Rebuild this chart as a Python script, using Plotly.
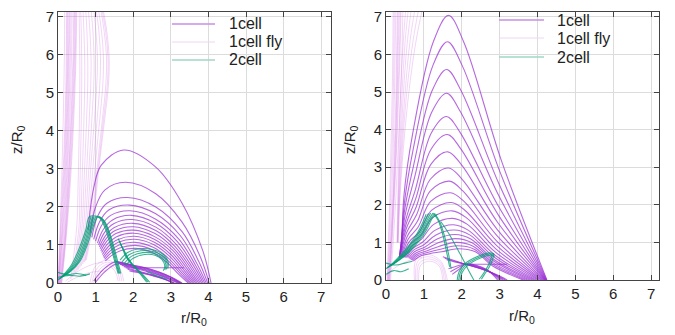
import plotly.graph_objects as go

# ---------------- Left panel ----------------
# 1cell trajectories (r, z) waypoints
L1_R = [
    [0.80, 0.95, 1.15, 1.75, 2.60, 3.30, 3.85, 4.07],
    [0.85, 1.00, 1.25, 1.80, 2.60, 3.30, 3.80, 4.02],
    [0.90, 1.05, 1.30, 1.85, 2.60, 3.30, 3.75, 3.98],
    [0.95, 1.10, 1.35, 1.90, 2.60, 3.25, 3.70, 3.94],
    [1.00, 1.15, 1.40, 1.92, 2.60, 3.22, 3.66, 3.90],
    [1.05, 1.20, 1.45, 1.95, 2.60, 3.18, 3.62, 3.86],
    [1.08, 1.23, 1.48, 1.97, 2.60, 3.15, 3.58, 3.82],
    [1.10, 1.26, 1.50, 1.99, 2.60, 3.12, 3.54, 3.78],
    [1.12, 1.28, 1.52, 2.00, 2.58, 3.09, 3.50, 3.74],
    [1.14, 1.30, 1.54, 2.01, 2.57, 3.06, 3.46, 3.70],
    [1.16, 1.32, 1.56, 2.02, 2.56, 3.03, 3.42, 3.66],
    [1.18, 1.34, 1.58, 2.03, 2.55, 3.00, 3.38, 3.62],
    [1.20, 1.36, 1.60, 2.04, 2.54, 2.97, 3.34, 3.58],
    [1.22, 1.38, 1.62, 2.05, 2.53, 2.94, 3.30, 3.54],
    [1.24, 1.40, 1.64, 2.06, 2.52, 2.91, 3.26, 3.50],
    [1.26, 1.42, 1.66, 2.07, 2.51, 2.88, 3.22, 3.46],
    [1.55, 1.90, 2.30, 2.70, 3.05, 3.30],
    [1.60, 1.95, 2.35, 2.72, 3.05, 3.28],
    [1.65, 2.00, 2.38, 2.74, 3.04, 3.25],
    [1.70, 2.05, 2.42, 2.76, 3.03, 3.22],
    [1.75, 2.10, 2.45, 2.78, 3.02, 3.18],
    [1.80, 2.10, 2.50, 2.85, 3.10],
    [1.85, 2.15, 2.52, 2.86, 3.08],
    [1.90, 2.20, 2.55, 2.88, 3.05],
    [1.50, 1.85, 2.25, 2.65, 3.00, 3.25],
    [1.95, 3.35],
    [0.95, 1.20, 1.50, 1.80, 2.05],
    [1.00, 1.25, 1.55, 1.85, 2.10],
]
L1_Z = [
    [1.40, 2.50, 3.10, 3.50, 3.05, 2.10, 0.85, 0.00],
    [1.30, 2.00, 2.45, 2.65, 2.35, 1.60, 0.65, 0.00],
    [1.20, 1.75, 2.10, 2.25, 2.00, 1.35, 0.55, 0.00],
    [1.15, 1.60, 1.92, 2.05, 1.82, 1.25, 0.50, 0.00],
    [1.10, 1.50, 1.78, 1.90, 1.68, 1.15, 0.46, 0.00],
    [1.05, 1.40, 1.66, 1.78, 1.57, 1.08, 0.43, 0.00],
    [1.00, 1.32, 1.56, 1.67, 1.47, 1.01, 0.40, 0.00],
    [0.95, 1.24, 1.46, 1.57, 1.38, 0.95, 0.38, 0.00],
    [0.90, 1.17, 1.38, 1.48, 1.30, 0.90, 0.36, 0.00],
    [0.85, 1.10, 1.30, 1.39, 1.22, 0.85, 0.34, 0.00],
    [0.80, 1.03, 1.22, 1.31, 1.15, 0.80, 0.32, 0.00],
    [0.75, 0.96, 1.14, 1.23, 1.08, 0.75, 0.30, 0.00],
    [0.70, 0.90, 1.07, 1.15, 1.01, 0.70, 0.28, 0.00],
    [0.66, 0.84, 1.00, 1.07, 0.94, 0.65, 0.26, 0.00],
    [0.62, 0.78, 0.92, 0.99, 0.87, 0.60, 0.24, 0.00],
    [0.58, 0.72, 0.85, 0.91, 0.80, 0.56, 0.22, 0.00],
    [0.55, 0.48, 0.40, 0.28, 0.14, 0.00],
    [0.52, 0.45, 0.37, 0.25, 0.12, 0.00],
    [0.49, 0.42, 0.34, 0.22, 0.10, 0.00],
    [0.46, 0.40, 0.31, 0.19, 0.08, 0.00],
    [0.43, 0.37, 0.28, 0.17, 0.07, 0.00],
    [0.40, 0.32, 0.22, 0.10, 0.00],
    [0.36, 0.29, 0.20, 0.09, 0.00],
    [0.32, 0.26, 0.18, 0.08, 0.00],
    [0.58, 0.50, 0.42, 0.30, 0.15, 0.00],
    [0.40, 0.40],
    [0.05, 0.35, 0.55, 0.52, 0.45],
    [0.02, 0.30, 0.50, 0.48, 0.42],
]

# 1cell fly trajectories
LF_R = [
    [0.75, 0.92, 1.02, 1.12, 1.24, 1.34, 1.36, 1.30, 1.18],
    [0.72, 0.90, 1.00, 1.10, 1.21, 1.31, 1.33, 1.27, 1.15],
    [0.70, 0.88, 0.98, 1.07, 1.18, 1.27, 1.29, 1.23, 1.12],
    [0.66, 0.84, 0.93, 1.01, 1.11, 1.19, 1.21, 1.16, 1.06],
    [0.62, 0.80, 0.88, 0.95, 1.04, 1.11, 1.13, 1.09, 1.00],
    [0.58, 0.76, 0.83, 0.89, 0.97, 1.03, 1.05, 1.01, 0.94],
    [0.54, 0.72, 0.78, 0.84, 0.90, 0.95, 0.96, 0.93, 0.87],
    [0.50, 0.68, 0.73, 0.78, 0.83, 0.87, 0.88, 0.85, 0.80],
    [0.46, 0.64, 0.68, 0.72, 0.76, 0.79, 0.79, 0.77, 0.73],
    [0.42, 0.60, 0.63, 0.66, 0.69, 0.71, 0.71, 0.69, 0.66],
    [0.38, 0.56, 0.58, 0.60, 0.62, 0.63, 0.63, 0.62, 0.60],
    [0.34, 0.50, 0.53, 0.55, 0.57, 0.58, 0.58, 0.57, 0.56],
    [0.10, 0.20, 0.30, 0.38, 0.44, 0.48, 0.50],
    [0.09, 0.19, 0.28, 0.36, 0.42, 0.46, 0.48],
    [0.08, 0.18, 0.27, 0.34, 0.40, 0.44, 0.46],
    [0.07, 0.17, 0.25, 0.32, 0.38, 0.42, 0.44],
    [0.06, 0.16, 0.24, 0.31, 0.36, 0.40, 0.42],
    [0.05, 0.14, 0.22, 0.28, 0.33, 0.36, 0.38],
    [0.04, 0.12, 0.20, 0.26, 0.30, 0.33, 0.35],
    [0.03, 0.10, 0.18, 0.24, 0.28, 0.30, 0.32],
    [0.02, 0.09, 0.16, 0.22, 0.26, 0.28, 0.30],
    [0.02, 0.08, 0.14, 0.20, 0.24, 0.26, 0.27],
    [0.01, 0.06, 0.12, 0.18, 0.22, 0.24, 0.25],
    [0.01, 0.05, 0.10, 0.16, 0.20, 0.22, 0.23],
    [0.00, 0.04, 0.08, 0.12, 0.15, 0.17, 0.18],
    [0.85, 1.00, 1.30, 1.60, 1.75],
    [0.90, 1.05, 1.32, 1.58, 1.70],
    [0.95, 1.10, 1.35, 1.55, 1.65],
    [1.00, 1.15, 1.35, 1.52, 1.60],
    [0.20, 0.45, 0.70, 0.95, 1.20],
    [0.25, 0.50, 0.75, 1.00, 1.25],
]
LF_Z = [
    [0.60, 1.50, 2.40, 3.30, 4.30, 5.20, 5.90, 6.60, 7.30],
    [0.58, 1.50, 2.40, 3.30, 4.30, 5.20, 5.90, 6.60, 7.30],
    [0.55, 1.50, 2.40, 3.30, 4.30, 5.20, 5.90, 6.60, 7.30],
    [0.50, 1.50, 2.40, 3.30, 4.30, 5.20, 5.90, 6.60, 7.30],
    [0.45, 1.50, 2.40, 3.30, 4.30, 5.20, 5.90, 6.60, 7.30],
    [0.40, 1.50, 2.40, 3.30, 4.30, 5.20, 5.90, 6.60, 7.30],
    [0.35, 1.50, 2.40, 3.30, 4.30, 5.20, 5.90, 6.60, 7.30],
    [0.30, 1.50, 2.40, 3.30, 4.30, 5.20, 5.90, 6.60, 7.30],
    [0.25, 1.50, 2.40, 3.30, 4.30, 5.20, 5.90, 6.60, 7.30],
    [0.20, 1.50, 2.40, 3.30, 4.30, 5.20, 5.90, 6.60, 7.30],
    [0.15, 1.50, 2.40, 3.30, 4.30, 5.20, 5.90, 6.60, 7.30],
    [0.10, 1.50, 2.40, 3.30, 4.30, 5.20, 5.90, 6.60, 7.30],
    [0.00, 1.00, 2.20, 3.50, 4.80, 6.00, 7.30],
    [0.00, 1.00, 2.20, 3.50, 4.80, 6.00, 7.30],
    [0.00, 1.00, 2.20, 3.50, 4.80, 6.00, 7.30],
    [0.00, 1.00, 2.20, 3.50, 4.80, 6.00, 7.30],
    [0.00, 1.00, 2.20, 3.50, 4.80, 6.00, 7.30],
    [0.00, 1.00, 2.20, 3.50, 4.80, 6.00, 7.30],
    [0.00, 1.00, 2.20, 3.50, 4.80, 6.00, 7.30],
    [0.00, 1.00, 2.20, 3.50, 4.80, 6.00, 7.30],
    [0.00, 1.00, 2.20, 3.50, 4.80, 6.00, 7.30],
    [0.00, 1.00, 2.20, 3.50, 4.80, 6.00, 7.30],
    [0.00, 1.00, 2.20, 3.50, 4.80, 6.00, 7.30],
    [0.00, 1.00, 2.20, 3.50, 4.80, 6.00, 7.30],
    [0.00, 1.00, 2.20, 3.50, 4.80, 6.00, 7.30],
    [0.00, 0.45, 0.60, 0.45, 0.05],
    [0.00, 0.40, 0.55, 0.40, 0.05],
    [0.00, 0.35, 0.50, 0.35, 0.05],
    [0.00, 0.30, 0.45, 0.30, 0.05],
    [0.05, 0.25, 0.40, 0.50, 0.55],
    [0.02, 0.15, 0.25, 0.30, 0.32],
]

# 2cell trajectories
L2_R = [
    [0.00, 0.13, 0.36, 0.58, 0.74, 0.84, 1.08],
    [0.02, 0.17, 0.41, 0.63, 0.78, 0.88],
    [0.05, 0.21, 0.46, 0.68, 0.82, 0.92],
    [0.08, 0.25, 0.51, 0.72, 0.86, 0.96],
    [0.11, 0.29, 0.55, 0.76, 0.90, 1.00],
    [0.14, 0.33, 0.59, 0.80, 0.94, 1.04],
    [1.02, 1.12, 1.25, 1.38, 1.50, 1.60],
    [1.05, 1.16, 1.30, 1.42, 1.53, 1.62],
    [1.08, 1.20, 1.34, 1.46, 1.56, 1.64],
    [1.10, 1.24, 1.38, 1.50, 1.60, 1.67],
    [0.00, 0.25, 0.50, 0.75],
    [0.00, 0.30, 0.60, 0.85],
    [1.60, 1.70, 1.80, 1.95, 2.12, 2.36],
    [1.63, 1.73, 1.84, 1.99, 2.16, 2.40],
    [1.66, 1.76, 1.87, 2.03, 2.20, 2.44],
    [1.65, 1.85, 2.15, 2.50, 2.80, 2.93, 2.92],
    [1.70, 1.90, 2.20, 2.52, 2.80, 2.90, 2.88],
    [1.75, 1.95, 2.25, 2.55, 2.78, 2.87, 2.84],
    [1.80, 2.00, 2.30, 2.58, 2.76, 2.84, 2.80],
    [2.35, 2.55, 2.75, 2.90],
]
L2_Z = [
    [0.08, 0.20, 0.48, 0.95, 1.40, 1.75, 1.75],
    [0.10, 0.22, 0.50, 0.98, 1.42, 1.75],
    [0.12, 0.24, 0.52, 1.00, 1.44, 1.75],
    [0.14, 0.26, 0.54, 1.02, 1.46, 1.75],
    [0.16, 0.28, 0.56, 1.04, 1.48, 1.75],
    [0.18, 0.30, 0.58, 1.06, 1.50, 1.75],
    [1.75, 1.70, 1.45, 1.05, 0.60, 0.25],
    [1.75, 1.68, 1.40, 1.00, 0.58, 0.25],
    [1.75, 1.66, 1.36, 0.96, 0.56, 0.25],
    [1.75, 1.62, 1.30, 0.90, 0.52, 0.25],
    [0.28, 0.22, 0.25, 0.20],
    [0.15, 0.20, 0.18, 0.24],
    [1.17, 0.95, 0.70, 0.50, 0.32, 0.02],
    [1.10, 0.90, 0.67, 0.47, 0.30, 0.02],
    [1.02, 0.85, 0.64, 0.44, 0.28, 0.02],
    [0.60, 0.80, 0.90, 0.88, 0.75, 0.55, 0.38],
    [0.55, 0.75, 0.85, 0.83, 0.70, 0.52, 0.36],
    [0.50, 0.70, 0.80, 0.78, 0.66, 0.48, 0.34],
    [0.46, 0.65, 0.75, 0.73, 0.62, 0.45, 0.32],
    [0.30, 0.22, 0.15, 0.10],
]

# ---------------- Right panel ----------------
R1_R = [
    [0.42, 0.47, 0.70, 1.25, 1.65, 2.05, 3.05, 4.25],
    [0.40, 0.48, 0.72, 1.24, 1.62, 2.01, 3.02, 4.24],
    [0.38, 0.49, 0.74, 1.22, 1.60, 1.98, 3.00, 4.23],
    [0.36, 0.50, 0.76, 1.21, 1.60, 1.97, 2.98, 4.22],
    [0.35, 0.51, 0.78, 1.20, 1.60, 1.96, 2.97, 4.21],
    [0.35, 0.52, 0.79, 1.19, 1.62, 1.98, 2.96, 4.20],
    [0.36, 0.53, 0.80, 1.18, 1.63, 1.99, 2.95, 4.19],
    [0.38, 0.54, 0.81, 1.17, 1.65, 2.01, 2.94, 4.17],
    [0.40, 0.56, 0.83, 1.17, 1.67, 2.03, 2.93, 4.15],
    [0.42, 0.58, 0.85, 1.18, 1.70, 2.06, 2.92, 4.12],
    [0.45, 0.60, 0.88, 1.20, 1.72, 2.09, 2.91, 4.09],
    [0.48, 0.63, 0.91, 1.23, 1.74, 2.12, 2.90, 4.05],
    [0.51, 0.66, 0.94, 1.26, 1.76, 2.15, 2.89, 4.01],
    [0.54, 0.69, 0.97, 1.29, 1.78, 2.18, 2.88, 3.96],
    [0.57, 0.72, 1.00, 1.32, 1.80, 2.21, 2.87, 3.91],
    [0.60, 0.75, 1.03, 1.35, 1.82, 2.24, 2.86, 3.86],
    [0.63, 0.78, 1.06, 1.38, 1.84, 2.27, 2.85, 3.80],
    [0.66, 0.81, 1.09, 1.41, 1.86, 2.30, 2.84, 3.74],
    [0.69, 0.84, 1.12, 1.44, 1.88, 2.33, 2.83, 3.68],
    [0.72, 0.87, 1.15, 1.47, 1.90, 2.36, 2.82, 3.62],
    [1.50, 1.80, 2.10, 2.50, 2.90, 3.20],
    [1.55, 1.83, 2.10, 2.48, 2.86, 3.15],
    [1.60, 1.86, 2.10, 2.46, 2.82, 3.10],
    [2.10, 3.20],
    [1.65, 1.90, 2.10, 2.40, 2.75, 3.05],
    [1.70, 1.92, 2.10, 2.38, 2.70, 3.00],
    [1.75, 1.95, 2.10, 2.36, 2.66, 2.95],
]
R1_Z = [
    [0.80, 2.20, 3.87, 6.34, 7.04, 6.34, 3.17, 0.00],
    [0.75, 2.00, 3.49, 5.71, 6.34, 5.71, 2.85, 0.00],
    [0.70, 1.85, 3.10, 5.04, 5.60, 5.04, 2.52, 0.00],
    [0.65, 1.70, 2.75, 4.47, 4.97, 4.47, 2.24, 0.00],
    [0.60, 1.55, 2.42, 3.92, 4.35, 3.92, 1.96, 0.00],
    [0.60, 1.45, 2.18, 3.48, 3.87, 3.48, 1.74, 0.00],
    [0.60, 1.35, 1.95, 3.07, 3.41, 3.07, 1.53, 0.00],
    [0.60, 1.25, 1.74, 2.68, 2.98, 2.68, 1.34, 0.00],
    [0.60, 1.16, 1.56, 2.37, 2.63, 2.37, 1.18, 0.00],
    [0.60, 1.08, 1.41, 2.09, 2.32, 2.09, 1.04, 0.00],
    [0.60, 1.00, 1.28, 1.85, 2.06, 1.85, 0.93, 0.00],
    [0.60, 0.94, 1.18, 1.66, 1.84, 1.66, 0.83, 0.00],
    [0.60, 0.88, 1.09, 1.48, 1.64, 1.48, 0.74, 0.00],
    [0.60, 0.83, 1.01, 1.32, 1.47, 1.32, 0.66, 0.00],
    [0.60, 0.79, 0.94, 1.20, 1.33, 1.20, 0.60, 0.00],
    [0.58, 0.75, 0.88, 1.09, 1.21, 1.09, 0.54, 0.00],
    [0.56, 0.71, 0.83, 0.99, 1.10, 0.99, 0.50, 0.00],
    [0.54, 0.68, 0.78, 0.90, 1.00, 0.90, 0.45, 0.00],
    [0.52, 0.65, 0.74, 0.82, 0.91, 0.82, 0.41, 0.00],
    [0.50, 0.62, 0.70, 0.75, 0.83, 0.75, 0.37, 0.00],
    [0.62, 0.52, 0.42, 0.30, 0.15, 0.00],
    [0.58, 0.49, 0.42, 0.31, 0.16, 0.00],
    [0.54, 0.47, 0.42, 0.32, 0.17, 0.00],
    [0.42, 0.42],
    [0.30, 0.38, 0.42, 0.36, 0.22, 0.00],
    [0.22, 0.34, 0.42, 0.38, 0.25, 0.00],
    [0.15, 0.30, 0.42, 0.40, 0.28, 0.00],
]

RF_R = [
    [0.10, 0.16, 0.22, 0.28, 0.33, 0.37, 0.40],
    [0.09, 0.15, 0.21, 0.27, 0.31, 0.35, 0.38],
    [0.08, 0.14, 0.20, 0.25, 0.29, 0.32, 0.35],
    [0.07, 0.13, 0.19, 0.24, 0.28, 0.30, 0.32],
    [0.06, 0.12, 0.18, 0.22, 0.26, 0.28, 0.30],
    [0.05, 0.10, 0.15, 0.19, 0.22, 0.24, 0.26],
    [0.04, 0.08, 0.12, 0.16, 0.19, 0.21, 0.22],
    [0.12, 0.19, 0.26, 0.32, 0.38, 0.42, 0.45],
    [0.03, 0.06, 0.10, 0.13, 0.16, 0.18, 0.19],
    [0.32, 0.36, 0.42, 0.52, 0.64, 0.80, 0.98],
    [0.32, 0.35, 0.40, 0.48, 0.58, 0.72, 0.88],
    [0.31, 0.34, 0.38, 0.45, 0.53, 0.64, 0.78],
    [0.30, 0.33, 0.36, 0.42, 0.48, 0.57, 0.68],
    [0.30, 0.32, 0.35, 0.39, 0.44, 0.51, 0.60],
    [0.29, 0.31, 0.33, 0.36, 0.40, 0.46, 0.53],
    [0.75, 0.80, 1.10, 1.45, 1.62],
    [0.78, 0.84, 1.12, 1.44, 1.58],
    [0.82, 0.88, 1.14, 1.42, 1.54],
    [0.86, 0.92, 1.16, 1.40, 1.50],
    [0.00, 0.20, 0.45, 0.70, 0.95],
]
RF_Z = [
    [0.00, 1.00, 2.20, 3.50, 4.80, 6.00, 7.30],
    [0.00, 1.00, 2.20, 3.50, 4.80, 6.00, 7.30],
    [0.00, 1.00, 2.20, 3.50, 4.80, 6.00, 7.30],
    [0.00, 1.00, 2.20, 3.50, 4.80, 6.00, 7.30],
    [0.00, 1.00, 2.20, 3.50, 4.80, 6.00, 7.30],
    [0.00, 1.00, 2.20, 3.50, 4.80, 6.00, 7.30],
    [0.00, 1.00, 2.20, 3.50, 4.80, 6.00, 7.30],
    [0.00, 1.00, 2.20, 3.50, 4.80, 6.00, 7.30],
    [0.00, 1.00, 2.20, 3.50, 4.80, 6.00, 7.30],
    [1.00, 2.00, 3.00, 4.20, 5.30, 6.40, 7.30],
    [1.00, 2.00, 3.00, 4.20, 5.30, 6.40, 7.30],
    [1.00, 2.00, 3.00, 4.20, 5.30, 6.40, 7.30],
    [1.00, 2.00, 3.00, 4.20, 5.30, 6.40, 7.30],
    [1.00, 2.00, 3.00, 4.20, 5.30, 6.40, 7.30],
    [1.00, 2.00, 3.00, 4.20, 5.30, 6.40, 7.30],
    [0.00, 0.55, 0.68, 0.50, 0.00],
    [0.00, 0.50, 0.62, 0.46, 0.00],
    [0.00, 0.45, 0.56, 0.42, 0.00],
    [0.00, 0.40, 0.50, 0.38, 0.00],
    [0.10, 0.30, 0.45, 0.55, 0.60],
]

R2_R = [
    [0.00, 0.18, 0.40, 0.63, 0.83, 0.98, 1.06],
    [0.03, 0.22, 0.45, 0.68, 0.88, 1.03, 1.12],
    [0.06, 0.26, 0.50, 0.73, 0.93, 1.08, 1.18],
    [0.09, 0.30, 0.55, 0.78, 0.98, 1.13, 1.24],
    [0.12, 0.34, 0.60, 0.83, 1.03, 1.18, 1.30],
    [0.15, 0.38, 0.65, 0.88, 1.08, 1.23, 1.36],
    [1.30, 1.42, 1.55, 1.65, 1.72],
    [1.25, 1.38, 1.50, 1.60, 1.68],
    [1.45, 1.65, 1.90, 2.08, 2.20, 2.32],
    [1.88, 1.93, 2.10, 2.40, 2.70, 2.85],
    [1.92, 1.97, 2.14, 2.44, 2.72, 2.86],
    [1.96, 2.01, 2.18, 2.48, 2.74, 2.87],
    [2.85, 2.80, 2.70, 2.60, 2.52],
    [2.80, 2.74, 2.64, 2.55, 2.46],
    [0.00, 0.20, 0.40, 0.60],
    [0.00, 0.25, 0.50, 0.70],
]
R2_Z = [
    [0.30, 0.45, 0.68, 0.95, 1.25, 1.55, 1.75],
    [0.32, 0.47, 0.70, 0.97, 1.27, 1.57, 1.77],
    [0.34, 0.49, 0.72, 0.99, 1.29, 1.59, 1.78],
    [0.36, 0.51, 0.74, 1.01, 1.31, 1.61, 1.78],
    [0.38, 0.53, 0.76, 1.03, 1.33, 1.63, 1.77],
    [0.40, 0.55, 0.78, 1.05, 1.35, 1.65, 1.75],
    [1.75, 1.55, 1.15, 0.70, 0.30],
    [1.78, 1.58, 1.20, 0.75, 0.35],
    [1.55, 1.25, 0.80, 0.46, 0.22, 0.00],
    [0.00, 0.22, 0.45, 0.62, 0.72, 0.70],
    [0.00, 0.21, 0.43, 0.60, 0.69, 0.66],
    [0.00, 0.20, 0.41, 0.58, 0.66, 0.62],
    [0.70, 0.50, 0.30, 0.15, 0.02],
    [0.66, 0.47, 0.28, 0.14, 0.02],
    [0.15, 0.25, 0.22, 0.30],
    [0.45, 0.40, 0.45, 0.50],
]

TICKS = [0, 1, 2, 3, 4, 5, 6, 7]
SERIES_NAMES = ["1cell", "1cell fly", "2cell"]
C_1CELL = "rgba(150,40,210,0.70)"
C_FLY = "rgba(205,100,225,0.45)"
C_2CELL = "rgba(0,158,115,0.78)"
KEY_COLORS = ["#c98fe6", "#f0d4f2", "#9fd8c4"]
KEY_WIDTHS = [1.6, 1.0, 1.6]
FONT = "Liberation Sans, Arial, Helvetica, sans-serif"

# The page body adds an 8 px offset; the figure is sized to the visible area.
W, H = 667, 327

fig = go.Figure()


def add_set(rs, zs, xa, ya, color, width, name):
    for r, z in zip(rs, zs):
        fig.add_trace(go.Scatter(
            x=r, y=z, mode="lines", xaxis=xa, yaxis=ya, name=name,
            line=dict(color=color, width=width, shape="spline"),
            showlegend=False, hoverinfo="skip"))


add_set(LF_R, LF_Z, "x", "y", C_FLY, 0.6, SERIES_NAMES[1])
add_set(L1_R, L1_Z, "x", "y", C_1CELL, 1.1, SERIES_NAMES[0])
add_set(L2_R, L2_Z, "x", "y", C_2CELL, 1.1, SERIES_NAMES[2])
add_set(RF_R, RF_Z, "x2", "y2", C_FLY, 0.6, SERIES_NAMES[1])
add_set(R1_R, R1_Z, "x2", "y2", C_1CELL, 1.1, SERIES_NAMES[0])
add_set(R2_R, R2_Z, "x2", "y2", C_2CELL, 1.1, SERIES_NAMES[2])

axis_common = dict(
    tickvals=TICKS, ticks="inside", ticklen=5, tickcolor="#444",
    showline=True, linecolor="#444", linewidth=1, mirror="allticks",
    showgrid=True, gridcolor="#dcdcdc", gridwidth=1, zeroline=False,
    automargin=False, ticklabeloverflow="allow",
    tickfont=dict(family=FONT, size=15, color="#222"),
)

fig.update_layout(
    width=W, height=H,
    margin=dict(l=0, r=0, t=0, b=0, autoexpand=False),
    paper_bgcolor="white", plot_bgcolor="white",
    xaxis=dict(domain=[50 / W, 323 / W], range=[0, 7.26], anchor="y", **axis_common),
    yaxis=dict(domain=[52 / H, 323 / H], range=[0, 7.13], anchor="x", **axis_common),
    xaxis2=dict(domain=[378 / W, 651 / W], range=[0, 7.21], anchor="y2", **axis_common),
    yaxis2=dict(domain=[55 / H, 323 / H], range=[0, 7.13], anchor="x2", **axis_common),
    showlegend=False,
)

# gnuplot-style keys (sample line + label) for each panel
KEYS = [
    dict(x0=164, x1=207, tx=219, rows=[16, 34, 52]),
    dict(x0=491, x1=536, tx=547, rows=[12, 30, 49]),
]
key_font = dict(family=FONT, size=16, color="#222")
for k in KEYS:
    for name, col, w, yy in zip(SERIES_NAMES, KEY_COLORS, KEY_WIDTHS, k["rows"]):
        fig.add_shape(type="line", xref="paper", yref="paper",
                      x0=k["x0"] / W, x1=k["x1"] / W,
                      y0=1 - yy / H, y1=1 - yy / H,
                      line=dict(color=col, width=w))
        fig.add_annotation(x=k["tx"] / W, y=1 - yy / H, xref="paper", yref="paper",
                           text=name, showarrow=False, font=key_font,
                           xanchor="left", yanchor="middle")

title_font = dict(family=FONT, size=15, color="#222")
for x, y, txt, ang in [
    (186 / W, 1 - 310 / H, "r/R<sub>0</sub>", 0),
    (514 / W, 1 - 308 / H, "r/R<sub>0</sub>", 0),
    (9 / W, 1 - 132 / H, "z/R<sub>0</sub>", -90),
    (342 / W, 1 - 132 / H, "z/R<sub>0</sub>", -90),
]:
    fig.add_annotation(x=x, y=y, xref="paper", yref="paper", text=txt,
                       showarrow=False, textangle=ang, font=title_font,
                       xanchor="center", yanchor="middle")

fig.write_html("out.html")
